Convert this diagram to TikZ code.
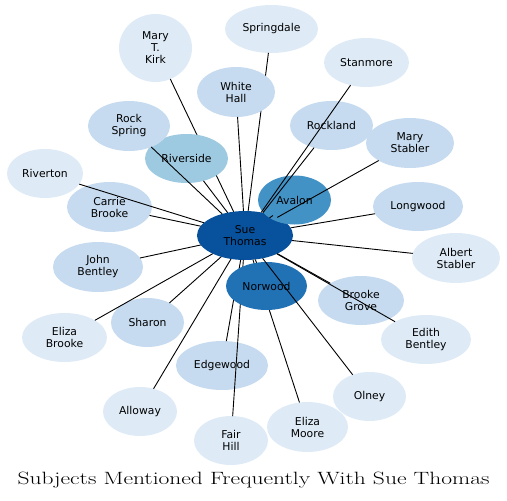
\documentclass[tikz,border=0pt]{standalone}
\usepackage{fontspec}
\usepackage{graphicx}
\newfontfamily\nodefont{DejaVu Sans}
\usetikzlibrary{shapes.geometric}
\definecolor{bA}{HTML}{DEEBF7}
\definecolor{bB}{HTML}{C6DBEF}
\definecolor{bC}{HTML}{9ECAE1}
\definecolor{bD}{HTML}{4292C6}
\definecolor{bE}{HTML}{2171B5}
\definecolor{bF}{HTML}{08519C}
\begin{document}
\begin{tikzpicture}[x=1pt,y=-1pt,
  nd/.style={ellipse, draw=none, inner sep=0pt, outer sep=0pt, align=center,
    font=\nodefont\fontsize{10.8}{12}\selectfont, text=black},
  ed/.style={draw=black, line width=0.9pt},
  titlestyle/.style={inner sep=0pt, font=\fontsize{17.8}{20}\selectfont}
]
\useasboundingbox (0,0) rectangle (507,501);

% centre
\node[nd, fill=bF, minimum width=96pt, minimum height=49pt] (st) at (245,235.5) {Sue\\Thomas};
\node[nd, fill=bD, minimum width=73pt, minimum height=49pt] (av) at (294.5,200) {Avalon};
\draw[ed] (st) -- (av);

% top
\node[nd, fill=bA, minimum width=93pt, minimum height=48pt] (spr) at (271.5,29) {Springdale};
\draw[ed] (st) -- (spr);
\node[nd, fill=bB, minimum width=78pt, minimum height=50pt] (wh) at (236,92) {White\\Hall};
\draw[ed] (st) -- (wh);

\node[nd, fill=bA, minimum width=73pt, minimum height=68pt] (kirk) at (155.5,48) {Mary\\T.\\Kirk};
\draw[ed] (st) -- (kirk);
\node[nd, fill=bC, minimum width=83pt, minimum height=49pt] (rside) at (186.5,158.5) {Riverside};
\draw[ed] (st) -- (rside);
\node[nd, fill=bB, minimum width=82pt, minimum height=50pt] (rspr) at (129,126) {Rock\\Spring};
\draw[ed] (st) -- (rspr);

% left
\node[nd, fill=bB, minimum width=85pt, minimum height=50pt] (cb) at (109.5,207) {Carrie\\Brooke};
\draw[ed] (st) -- (cb);
\node[nd, fill=bA, minimum width=76pt, minimum height=49pt] (rton) at (45,173.5) {Riverton};
\draw[ed] (st) -- (rton);

% upper right
\node[nd, fill=bB, minimum width=83pt, minimum height=49pt] (rland) at (331.5,125.5) {Rockland};
\draw[ed] (st) -- (rland);
\node[nd, fill=bA, minimum width=85pt, minimum height=49pt] (stan) at (366.5,62.5) {Stanmore};
\draw[ed] (st) -- (stan);
\node[nd, fill=bB, minimum width=88pt, minimum height=50pt] (ms) at (410,143) {Mary\\Stabler};
\draw[ed] (st) -- (ms);

% right
\node[nd, fill=bB, minimum width=90pt, minimum height=49pt] (lw) at (418,206.5) {Longwood};
\draw[ed] (st) -- (lw);
\node[nd, fill=bA, minimum width=88pt, minimum height=50pt] (as) at (456,258) {Albert\\Stabler};
\draw[ed] (st) -- (as);

% lower left
\node[nd, fill=bB, minimum width=90pt, minimum height=50pt] (jb) at (98,267) {John\\Bentley};
\draw[ed] (st) -- (jb);
\node[nd, fill=bB, minimum width=73pt, minimum height=49pt] (sh) at (147.5,322.5) {Sharon};
\draw[ed] (st) -- (sh);
\node[nd, fill=bA, minimum width=85pt, minimum height=49pt] (eb) at (64.5,337.5) {Eliza\\Brooke};
\draw[ed] (st) -- (eb);
\node[nd, fill=bA, minimum width=74pt, minimum height=49pt] (al) at (140,411.5) {Alloway};
\draw[ed] (st) -- (al);

% bottom
\node[nd, fill=bB, minimum width=92pt, minimum height=49pt] (ew) at (222,365.5) {Edgewood};
\draw[ed] (st) -- (ew);
\node[nd, fill=bA, minimum width=74pt, minimum height=49pt] (fh) at (231,440.5) {Fair\\Hill};
\draw[ed] (st) -- (fh);
\node[nd, fill=bA, minimum width=81pt, minimum height=50pt] (em) at (307.5,427) {Eliza\\Moore};
\draw[ed] (st) -- (em);
\node[nd, fill=bE, minimum width=81pt, minimum height=48pt] (nw) at (266.5,286) {Norwood};
\draw[ed] (st) -- (nw);
\node[nd, fill=bA, minimum width=73pt, minimum height=49pt] (ol) at (369.5,396.5) {Olney};
\draw[ed] (st) -- (ol);

% lower right
\node[nd, fill=bB, minimum width=86pt, minimum height=49pt] (bg) at (361,300.5) {Brooke\\Grove};
\draw[ed] (st) -- (bg);
\node[nd, fill=bA, minimum width=90pt, minimum height=49pt] (edb) at (426,339.5) {Edith\\Bentley};
\draw[ed] (st) -- (edb);

% title
\node[titlestyle, anchor=base] (title) at (253.5,484.5) {\scalebox{1.32}[1]{Subjects Mentioned Frequently With Sue Thomas}};
\end{tikzpicture}
\end{document}
